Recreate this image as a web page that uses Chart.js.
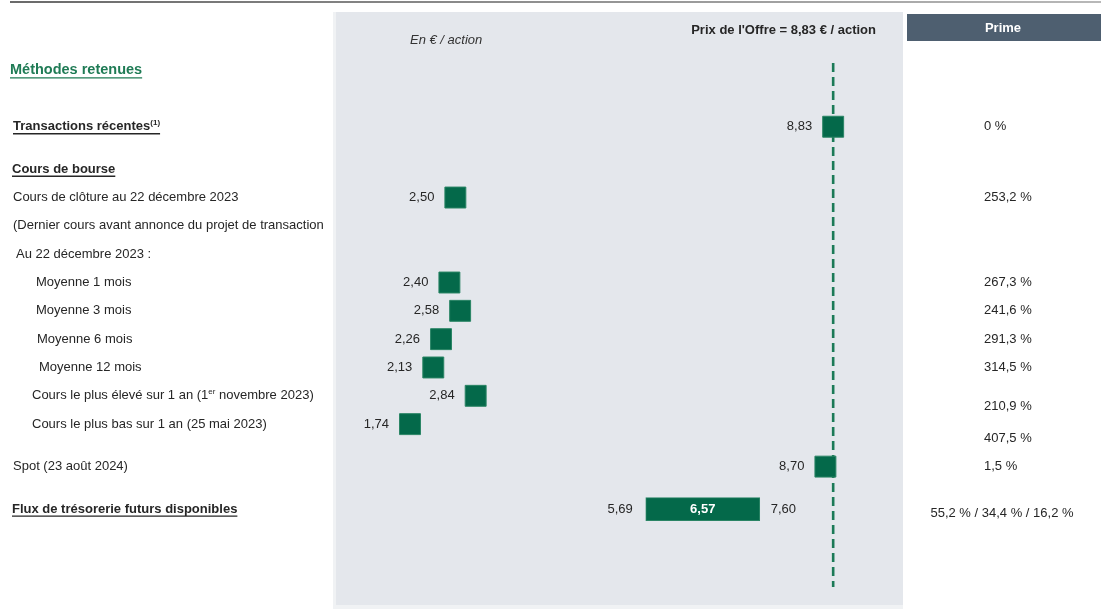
<!DOCTYPE html>
<html lang="fr">
<head>
<meta charset="utf-8">
<title>Méthodes retenues</title>
<script src="https://cdn.jsdelivr.net/npm/chart.js@4.4.1/dist/chart.umd.min.js"></script>
<style>
  html, body { margin: 0; padding: 0; background: #fff; }
  #wrap { position: relative; width: 1101px; height: 609px; }
</style>
</head>
<body>
<div id="wrap"><canvas id="chart"></canvas></div>
<script>
// rows of the table, '' entries are spacer rows
const rowLabels = [
  'Méthodes retenues', '', '', '',
  'Transactions récentes(1)', '', '',
  'Cours de bourse', '',
  'Cours de clôture au 22 décembre 2023', '',
  '(Dernier cours avant annonce du projet de transaction', '',
  'Au 22 décembre 2023 :', '',
  'Moyenne 1 mois', '',
  'Moyenne 3 mois', '',
  'Moyenne 6 mois', '',
  'Moyenne 12 mois', '',
  'Cours le plus élevé sur 1 an (1er novembre 2023)', '',
  'Cours le plus bas sur 1 an (25 mai 2023)', '', '',
  'Spot (23 août 2024)', '', '',
  'Flux de trésorerie futurs disponibles',
  '', '', '', '', ''
];

const markerRows = [
  'Transactions récentes(1)',
  'Cours de clôture au 22 décembre 2023',
  'Moyenne 1 mois',
  'Moyenne 3 mois',
  'Moyenne 6 mois',
  'Moyenne 12 mois',
  'Cours le plus élevé sur 1 an (1er novembre 2023)',
  'Cours le plus bas sur 1 an (25 mai 2023)',
  'Spot (23 août 2024)'
];
const markerValues = [8.83, 2.50, 2.40, 2.58, 2.26, 2.13, 2.84, 1.74, 8.70];

const dcfRow = 'Flux de trésorerie futurs disponibles';
const dcfRange = [5.69, 7.60];
const dcfCentral = 6.57;

const offerPrice = 8.83;

const primeRows = markerRows.concat([dcfRow]);
const primeLabels = ['0 %', '253,2 %', '267,3 %', '241,6 %', '291,3 %', '314,5 %',
  '210,9 %', '407,5 %', '1,5 %', '55,2 % / 34,4 % / 16,2 %'];

const FONT = "'Liberation Sans', Arial, sans-serif";
const GREEN = '#04694a';
const TEXT = '#262626';

// text look of the left column
const rowStyle = {
  'Méthodes retenues': { x: 10, bold: true, size: 14.5, color: '#1f7b55', underline: true },
  'Transactions récentes(1)': { x: 13, bold: true, underline: true, sup: '(1)' },
  'Cours de bourse': { x: 12, bold: true, underline: true },
  'Au 22 décembre 2023 :': { x: 16 },
  'Moyenne 1 mois': { x: 36 },
  'Moyenne 3 mois': { x: 36 },
  'Moyenne 6 mois': { x: 37 },
  'Moyenne 12 mois': { x: 39 },
  'Cours le plus élevé sur 1 an (1er novembre 2023)': { x: 32, sup: 'er' },
  'Cours le plus bas sur 1 an (25 mai 2023)': { x: 32 },
  'Flux de trésorerie futurs disponibles': { x: 12, bold: true, underline: true }
};
const primeShift = { 'Cours le plus élevé sur 1 an (1er novembre 2023)': 11, 'Cours le plus bas sur 1 an (25 mai 2023)': 14, 'Flux de trésorerie futurs disponibles': 4 };

function fmt(v) {
  return v.toFixed(2).replace('.', ',');
}

function font(size, bold, italic) {
  return (italic ? 'italic ' : '') + (bold ? 'bold ' : '') + size + 'px ' + FONT;
}

function drawRowLabel(ctx, text, y) {
  const st = Object.assign({ x: 13, size: 13, bold: false, color: TEXT }, rowStyle[text] || {});
  ctx.fillStyle = st.color;
  ctx.textAlign = 'left';
  ctx.textBaseline = 'middle';
  let x = st.x;
  let parts = [text];
  if (st.sup) {
    const at = text.indexOf(st.sup);
    parts = [text.slice(0, at), st.sup, text.slice(at + st.sup.length)];
  }
  parts.forEach((p, i) => {
    if (!p) return;
    if (i === 1) {
      ctx.font = font(8, st.bold);
      ctx.fillText(p, x, y - 4);
    } else {
      ctx.font = font(st.size, st.bold);
      ctx.fillText(p, x, y);
    }
    x += ctx.measureText(p).width;
  });
  if (st.underline) {
    ctx.strokeStyle = st.color;
    ctx.lineWidth = 1.4;
    ctx.beginPath();
    ctx.moveTo(st.x, y + st.size * 0.5 + 0.5);
    ctx.lineTo(x, y + st.size * 0.5 + 0.5);
    ctx.stroke();
  }
}

const decorations = {
  id: 'decorations',
  beforeDraw(chart) {
    const { ctx, chartArea } = chart;
    ctx.save();
    // top rule
    const g = ctx.createLinearGradient(10, 0, 1101, 0);
    g.addColorStop(0, '#6a6a6a');
    g.addColorStop(1, '#b8b8b8');
    ctx.fillStyle = g;
    ctx.fillRect(10, 1, 1091, 2);
    // grey panel behind the chart
    ctx.fillStyle = '#f0f2f4';
    ctx.fillRect(chartArea.left - 3, 12, chartArea.right - chartArea.left + 3, 597);
    ctx.fillStyle = '#e4e7ec';
    ctx.fillRect(chartArea.left, 12, chartArea.right - chartArea.left, 593);
    // Prime header
    ctx.fillStyle = '#4e5f70';
    ctx.fillRect(907, 14, 194, 27);
    ctx.fillStyle = '#ffffff';
    ctx.font = font(13, true);
    ctx.textAlign = 'center';
    ctx.textBaseline = 'middle';
    ctx.fillText('Prime', 1003, 28);
    // panel captions
    ctx.fillStyle = '#333333';
    ctx.font = font(13, false, true);
    ctx.textAlign = 'left';
    ctx.fillText('En € / action', 410, 40);
    ctx.fillStyle = TEXT;
    ctx.font = font(13, true);
    ctx.textAlign = 'right';
    ctx.fillText("Prix de l'Offre = " + fmt(offerPrice) + ' € / action', 876, 30);
    ctx.restore();
  },
  beforeDatasetsDraw(chart) {
    const { ctx, chartArea, scales } = chart;
    const x = scales.x.getPixelForValue(offerPrice);
    ctx.save();
    ctx.strokeStyle = '#1b7a57';
    ctx.lineWidth = 2.6;
    ctx.setLineDash([9, 5]);
    ctx.beginPath();
    ctx.moveTo(x, chartArea.top);
    ctx.lineTo(x, chartArea.bottom);
    ctx.stroke();
    ctx.restore();
  },
  afterDatasetsDraw(chart) {
    const { ctx, scales } = chart;
    const xs = scales.x, ys = scales.y;
    ctx.save();
    // left column
    rowLabels.forEach((t, i) => {
      if (t) drawRowLabel(ctx, t, ys.getPixelForValue(i));
    });
    // values next to markers
    ctx.font = font(13);
    ctx.fillStyle = TEXT;
    ctx.textBaseline = 'middle';
    ctx.textAlign = 'right';
    markerRows.forEach((r, i) => {
      const y = ys.getPixelForValue(rowLabels.indexOf(r));
      ctx.fillText(fmt(markerValues[i]), xs.getPixelForValue(markerValues[i]) - 21, y);
    });
    // range bar labels
    const yb = ys.getPixelForValue(rowLabels.indexOf(dcfRow));
    const x0 = xs.getPixelForValue(dcfRange[0]);
    const x1 = xs.getPixelForValue(dcfRange[1]);
    ctx.fillText(fmt(dcfRange[0]), x0 - 13, yb);
    ctx.textAlign = 'left';
    ctx.fillText(fmt(dcfRange[1]), x1 + 11, yb);
    ctx.textAlign = 'center';
    ctx.fillStyle = '#ffffff';
    ctx.font = font(13, true);
    ctx.fillText(fmt(dcfCentral), (x0 + x1) / 2, yb);
    // Prime column
    ctx.fillStyle = TEXT;
    ctx.font = font(13);
    primeRows.forEach((r, i) => {
      const y = ys.getPixelForValue(rowLabels.indexOf(r)) + (primeShift[r] || 0);
      if (r === dcfRow) {
        ctx.textAlign = 'center';
        ctx.fillText(primeLabels[i], 1002, y);
      } else {
        ctx.textAlign = 'left';
        ctx.fillText(primeLabels[i], 984, y);
      }
    });
    ctx.restore();
  }
};

new Chart(document.getElementById('chart'), {
  type: 'bar',
  data: {
    labels: rowLabels,
    datasets: [
      {
        type: 'line',
        indexAxis: 'y',
        showLine: false,
        data: markerRows.map((r, i) => ({ x: markerValues[i], y: r })),
        pointStyle: 'rect',
        pointRadius: 14.8,
        pointHoverRadius: 14.8,
        pointBackgroundColor: GREEN,
        pointBorderColor: '#2a8565',
        pointBorderWidth: 1,
        order: 0
      },
      {
        type: 'bar',
        data: [{ x: dcfRange, y: dcfRow }],
        backgroundColor: GREEN,
        borderColor: '#2a8565',
        borderWidth: 1,
        borderSkipped: false,
        barThickness: 23,
        order: 1
      }
    ]
  },
  options: {
    indexAxis: 'y',
    responsive: true,
    maintainAspectRatio: false,
    animation: false,
    events: [],
    layout: { padding: { left: 336, right: 198, top: 63, bottom: 22 } },
    plugins: {
      legend: { display: false },
      tooltip: { enabled: false }
    },
    scales: {
      x: { type: 'linear', min: 0.5, max: 10, display: false },
      y: { type: 'category', display: false, offset: true }
    }
  },
  plugins: [decorations]
});
</script>
</body>
</html>
